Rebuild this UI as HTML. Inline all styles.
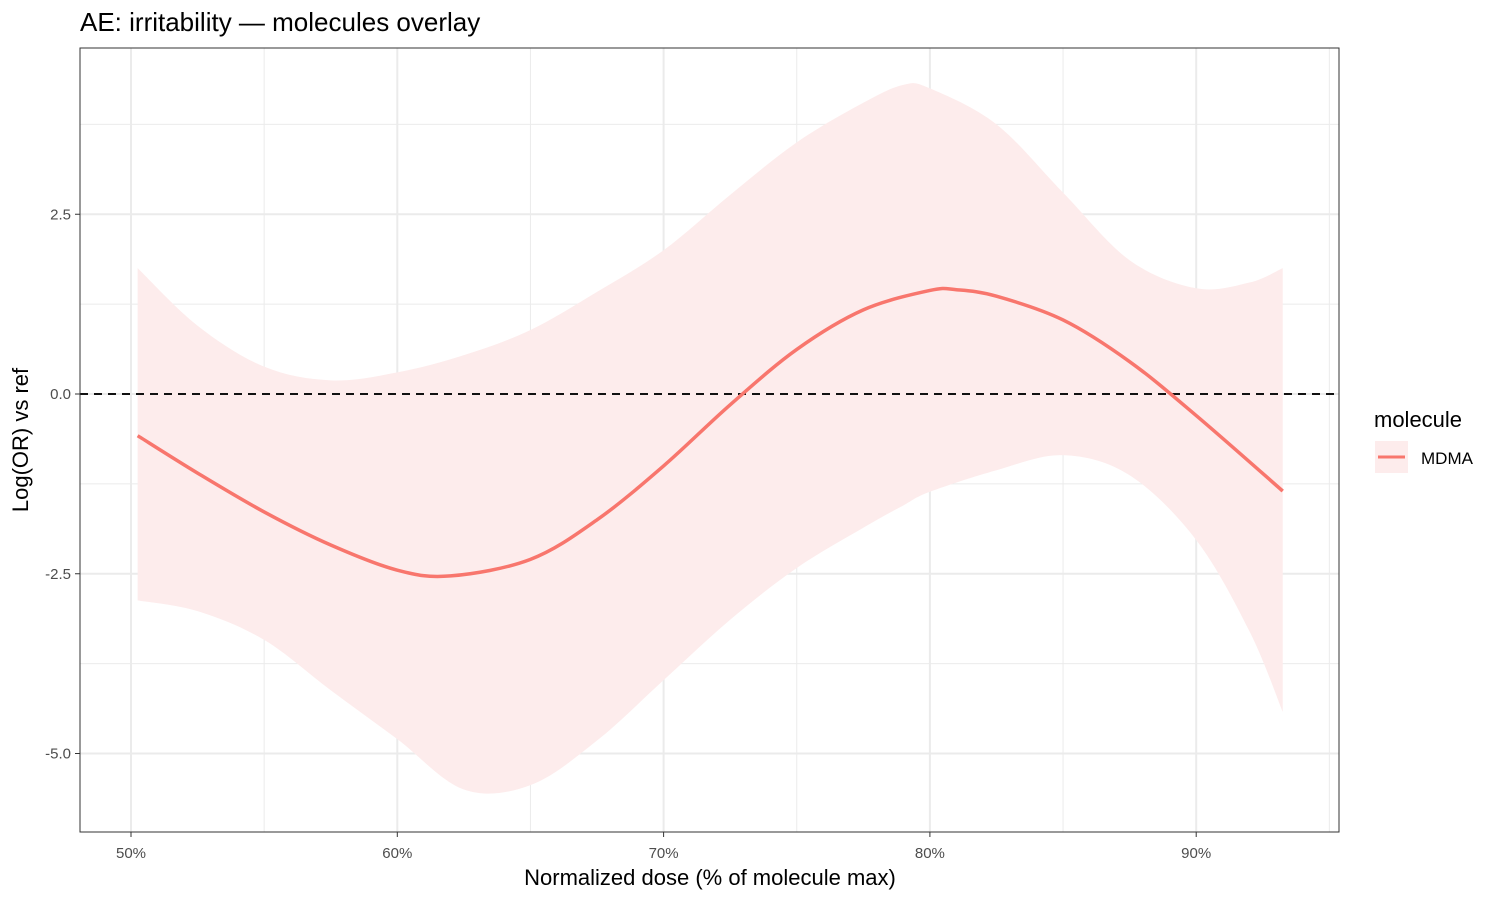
<!DOCTYPE html>
<html><head><meta charset="utf-8"><style>
body{margin:0;background:#fff;font-family:"Liberation Sans",Arial,sans-serif}
svg text{font-family:"Liberation Sans",Arial,sans-serif}
</style></head><body>
<svg id="chart" width="1500" height="900">
<text x="80" y="31" font-size="26" fill="#000">AE: irritability — molecules overlay</text>
<g id="grid"></g>
<g id="marks"></g>
<rect x="80" y="48" width="1259" height="784" fill="none" stroke="#333" stroke-width="1"/>
<g id="axes"></g>
<text x="710" y="885" font-size="22" text-anchor="middle">Normalized dose (% of molecule max)</text>
<text transform="translate(28,440) rotate(-90)" font-size="22" text-anchor="middle">Log(OR) vs ref</text>
<g>
<text x="1374" y="427" font-size="22">molecule</text>
<rect x="1375" y="441" width="33" height="32" fill="#fdecec"/>
<line x1="1378" y1="457" x2="1405" y2="457" stroke="#f8766d" stroke-width="3"/>
<text x="1421" y="464" font-size="17">MDMA</text>
</g>
</svg>
<script>
const xTicks=[50,60,70,80,90];
const xMinor=[55,65,75,85,95];
const yTicks=[2.5,0,-2.5,-5];
const yMinor=[3.75,1.25,-1.25,-3.75];
const fitX=[50.25,52.5,55,57.5,60,62,65,67.5,70,72.5,75,77.5,80,81,82.5,85,87.5,90,93.25];
const fitY=[-0.58,-1.1,-1.64,-2.1,-2.45,-2.53,-2.3,-1.75,-1.0,-0.15,0.62,1.17,1.44,1.45,1.36,1.03,0.45,-0.3,-1.35];
const bandX=[50.25,52.5,55,57.5,60,62.5,65,67.5,70,72.5,75,77.5,79,80,82.5,85,87.5,90,92,93.25];
const upper=[1.75,0.95,0.38,0.19,0.3,0.54,0.89,1.42,2.0,2.77,3.5,4.05,4.3,4.25,3.75,2.8,1.86,1.47,1.55,1.75];
const lower=[-2.87,-3.02,-3.42,-4.12,-4.8,-5.5,-5.44,-4.82,-3.98,-3.14,-2.42,-1.86,-1.55,-1.36,-1.06,-0.85,-1.13,-2.03,-3.3,-4.42];
const xs=v=>131+(v-50)*26.63;
const ys=v=>394-v*71.9;
const NS="http://www.w3.org/2000/svg";
function mk(t,a,p){const e=document.createElementNS(NS,t);for(const k in a)e.setAttribute(k,a[k]);p.appendChild(e);return e;}
function spline(pts){let d="M"+pts[0][0]+","+pts[0][1];for(let i=0;i<pts.length-1;i++){const p0=pts[i-1]||pts[i],p1=pts[i],p2=pts[i+1],p3=pts[i+2]||p2;d+=" C"+(p1[0]+(p2[0]-p0[0])/6)+","+(p1[1]+(p2[1]-p0[1])/6)+" "+(p2[0]-(p3[0]-p1[0])/6)+","+(p2[1]-(p3[1]-p1[1])/6)+" "+p2[0]+","+p2[1];}return d;}
const g=document.getElementById('grid'),m=document.getElementById('marks'),ax=document.getElementById('axes');
xMinor.forEach(v=>{const l=mk('line',{x1:xs(v),x2:xs(v),y1:48,y2:832,stroke:'#ebebeb','stroke-width':1},g);

});
yMinor.forEach(v=>{const l=mk('line',{x1:80,x2:1339,y1:ys(v),y2:ys(v),stroke:'#ebebeb','stroke-width':1},g);

});
xTicks.forEach(v=>{const l=mk('line',{x1:xs(v),x2:xs(v),y1:48,y2:832,stroke:'#ebebeb','stroke-width':2},g);


const t=mk('line',{x1:xs(v),x2:xs(v),y1:832,y2:837,stroke:'#333'},ax);


const tx=mk('text',{x:xs(v),y:858,'font-size':15,fill:'#4d4d4d','text-anchor':'middle'},ax);tx.textContent=v+'%';

});
yTicks.forEach(v=>{const l=mk('line',{x1:80,x2:1339,y1:ys(v),y2:ys(v),stroke:'#ebebeb','stroke-width':2},g);


const t=mk('line',{x1:75,x2:80,y1:ys(v),y2:ys(v),stroke:'#333'},ax);


const tx=mk('text',{x:71,y:ys(v)+5,'font-size':15,fill:'#4d4d4d','text-anchor':'end'},ax);tx.textContent=v.toFixed(1);

});
const up=bandX.map((x,i)=>[xs(x),ys(upper[i])]);
const lo=bandX.map((x,i)=>[xs(x),ys(lower[i])]).reverse();
const band=mk('path',{d:spline(up)+" L"+spline(lo).slice(1)+" Z",fill:'#fdecec',stroke:'none'},m);


const ref=mk('line',{x1:80,x2:1339,y1:ys(0),y2:ys(0),stroke:'#111','stroke-width':2,'stroke-dasharray':'8,6'},m);


const fit=mk('path',{d:spline(fitX.map((x,i)=>[xs(x),ys(fitY[i])])),fill:'none',stroke:'#f8766d','stroke-width':3.5},m);


</script>
</body></html>
